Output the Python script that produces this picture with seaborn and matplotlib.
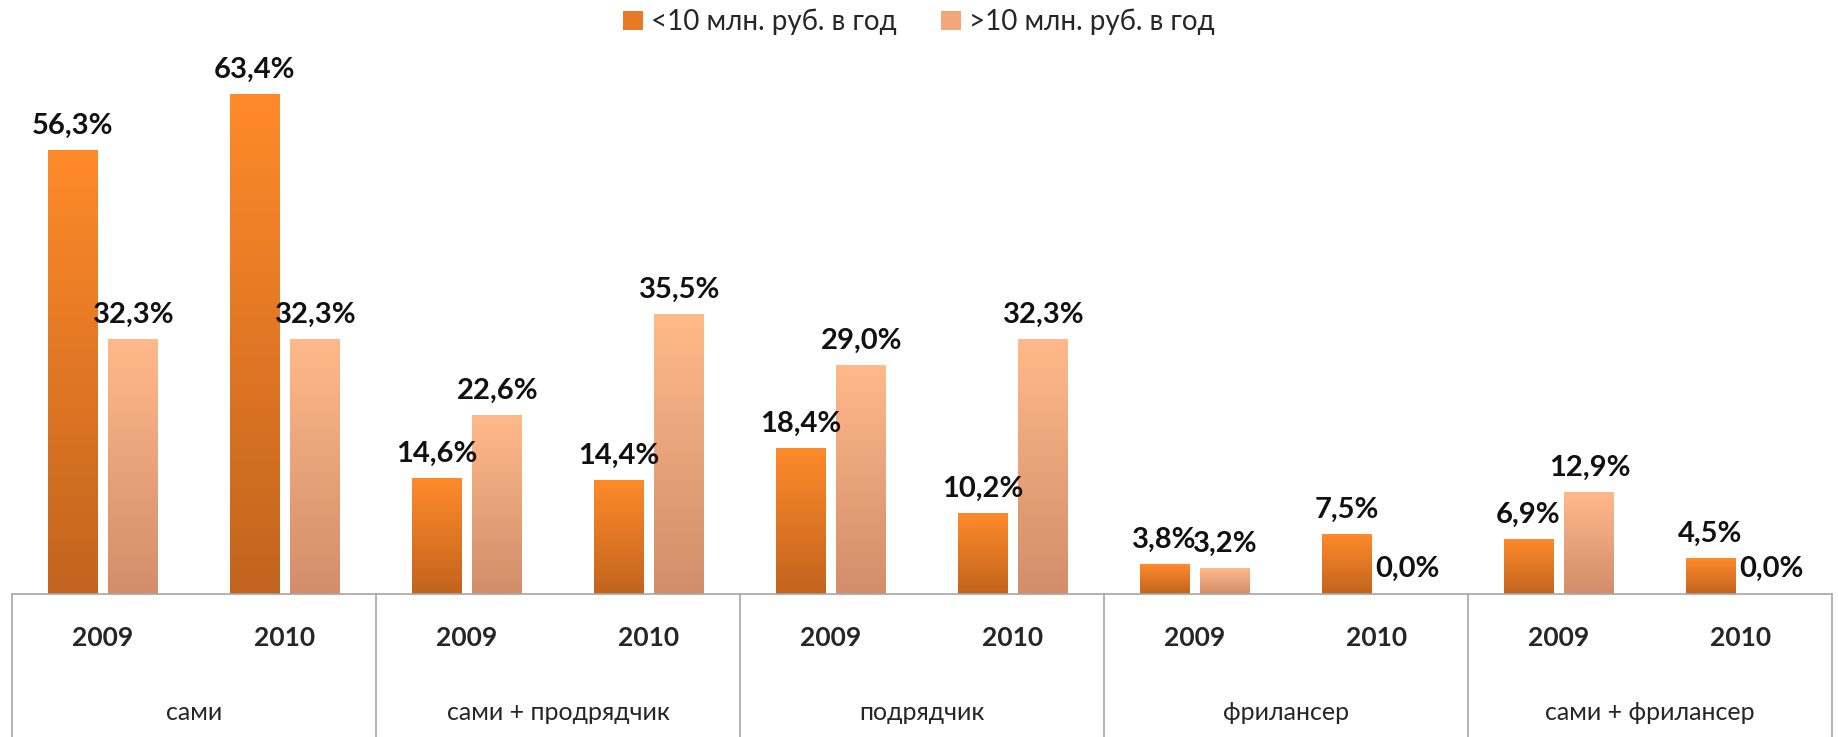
import numpy as np
import pandas as pd
import matplotlib
matplotlib.use('Agg')
import matplotlib.pyplot as plt
import matplotlib.transforms as mtransforms
from matplotlib.patches import Patch
import seaborn as sns

# данные
groups = ['сами', 'сами + продрядчик', 'подрядчик', 'фрилансер', 'сами + фрилансер']
years = ['2009', '2010']
series = ['<10 млн. руб. в год', '>10 млн. руб. в год']
small_firms = [56.3, 63.4, 14.6, 14.4, 18.4, 10.2, 3.8, 7.5, 6.9, 4.5]
big_firms = [32.3, 32.3, 22.6, 35.5, 29.0, 32.3, 3.2, 0.0, 12.9, 0.0]

keys = [g + '|' + y for g in groups for y in years]
df = pd.DataFrame({
    'key': keys * 2,
    'value': small_firms + big_firms,
    'series': [series[0]] * len(keys) + [series[1]] * len(keys),
})

sns.set_style('white')
plt.rcParams['font.family'] = ['Lato', 'Open Sans', 'DejaVu Sans']

# цвета градиента (верх, низ)
grad = {
    0: ('#FF8A2A', '#C2641E'),
    1: ('#FFB98A', '#D38D69'),
}

fig = plt.figure(figsize=(18.38, 7.37), dpi=100)
ax = fig.add_axes([12 / 1838, 143 / 737, 1820 / 1838, 536 / 737])

sns.barplot(data=df, x='key', y='value', hue='series', order=keys,
            hue_order=series, width=0.67, gap=0.18, legend=False, ax=ax,
            palette=[grad[0][0], grad[1][0]], saturation=1)

# градиентная заливка каждого столбика
for i, cont in enumerate(ax.containers):
    top = np.array(matplotlib.colors.to_rgb(grad[i][0]))
    bot = np.array(matplotlib.colors.to_rgb(grad[i][1]))
    t = np.linspace(0, 1, 256)[:, None]
    img = (top[None, :] * (1 - t) + bot[None, :] * t)[:, None, :]
    for rect in cont:
        x0, w, h = rect.get_x(), rect.get_width(), rect.get_height()
        rect.set_alpha(0)
        if h > 0:
            ax.imshow(img, extent=[x0, x0 + w, 0, h], aspect='auto',
                      interpolation='bilinear', origin='upper', zorder=2)
    for rect, v in zip(cont, cont.datavalues):
        ax.annotate(f'{v:.1f}%'.replace('.', ','),
                    (rect.get_x() + rect.get_width() / 2, rect.get_height()),
                    xytext=(0, 12), textcoords='offset points',
                    ha='center', va='baseline', fontsize=21, fontweight='bold',
                    color='#111111')

ax.set_xlim(-0.5, len(keys) - 0.5)
ax.set_ylim(0, 68)
ax.set_xticks([])
ax.set_yticks([])
ax.set_xlabel('')
ax.set_ylabel('')
sns.despine(ax=ax, left=True, bottom=True)

# двухуровневая ось категорий
tr = mtransforms.blended_transform_factory(ax.transData, fig.transFigure)
y_top = 143 / 737
line_kw = dict(color='#A6A6A6', lw=1.2, transform=tr, clip_on=False)
ax.plot([-0.5, len(keys) - 0.5], [y_top, y_top], **line_kw)
for k in range(len(groups) + 1):
    xs = -0.5 + 2 * k
    ax.plot([xs, xs], [0, y_top], **line_kw)

for i, key in enumerate(keys):
    ax.text(i, (737 - 638) / 737, key.split('|')[1], transform=tr,
            ha='center', va='center', fontsize=19, fontweight='bold')
for j, g in enumerate(groups):
    ax.text(2 * j + 0.5, (737 - 712) / 737, g, transform=tr,
            ha='center', va='center', fontsize=18)

handles = [Patch(facecolor='#E67A25', edgecolor='none'),
           Patch(facecolor='#F4A67A', edgecolor='none')]
fig.legend(handles, series, loc='center', bbox_to_anchor=(0.5, 1 - 22 / 737),
           ncol=2, frameon=False, fontsize=20, handlelength=0.7,
           handleheight=0.7, handletextpad=0.3, columnspacing=1.6)

fig.savefig('out.png', dpi=100)
